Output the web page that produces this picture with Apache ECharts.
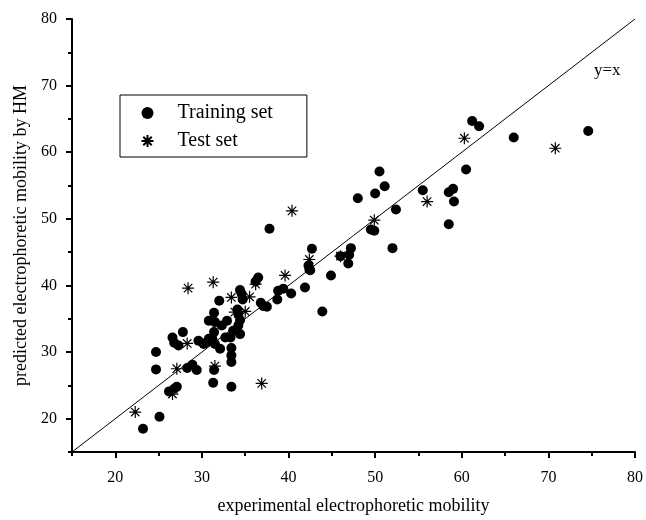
<!DOCTYPE html>
<html>
<head>
<meta charset="utf-8">
<script src="https://cdn.jsdelivr.net/npm/echarts@6/dist/echarts.min.js"></script>
<style>
  html, body { margin: 0; padding: 0; background: #fff; }
  #chart { width: 646px; height: 520px; }
</style>
</head>
<body>
<div id="chart"></div>
<script>
// training set points: [experimental, predicted]
var trainingSet = [
  [23.2,18.5],[25.1,20.3],[24.7,30.0],[24.7,27.4],[26.2,24.1],[26.8,24.5],[27.1,24.8],
  [28.3,27.6],[28.9,28.1],[29.4,27.3],[26.6,32.2],[26.8,31.4],[27.3,31.0],[27.8,33.0],
  [29.6,31.7],[30.2,31.2],[30.6,31.5],[30.8,32.0],[31.4,33.0],[31.2,32.0],[31.5,31.2],
  [32.1,30.5],[30.8,34.7],[31.5,34.5],[31.4,35.9],[32.3,34.0],[32.9,34.7],[32.0,37.7],
  [32.7,32.2],[33.3,32.2],[33.6,33.2],[34.2,34.0],[34.4,32.7],[34.1,36.4],[34.2,35.7],
  [34.4,34.8],[34.4,39.3],[34.6,38.7],[34.7,37.9],[33.4,30.6],[33.4,29.5],[33.4,28.5],
  [33.4,24.8],[31.3,25.4],[31.4,27.3],[36.5,41.2],[36.2,40.6],[36.8,37.4],[37.1,36.9],
  [37.5,36.8],[37.8,48.5],[38.8,39.2],[39.4,39.5],[38.7,37.9],[40.3,38.8],[41.9,39.7],
  [42.4,42.4],[42.3,43.0],[42.5,42.3],[42.7,45.5],[43.9,36.1],[44.9,41.5],[46.0,44.4],
  [46.9,43.3],[47.0,44.6],[47.2,45.6],[48.0,53.1],[49.5,48.4],[49.9,48.2],[50.0,53.8],
  [50.5,57.1],[51.1,54.9],[52.0,45.6],[52.4,51.4],[55.5,54.3],[58.5,54.0],[59.0,54.5],
  [59.1,52.6],[58.5,49.2],[60.5,57.4],[61.2,64.7],[62.0,63.9],[66.0,62.2],[74.6,63.2]
];
// test set points
var testSet = [
  [22.3,21.0],[26.6,23.7],[27.1,27.5],[28.3,31.3],[28.4,39.6],[31.3,40.5],[31.5,27.9],
  [33.4,38.2],[33.8,36.0],[35.0,36.1],[35.5,38.3],[36.2,40.2],[36.9,25.3],[39.6,41.5],
  [40.4,51.2],[42.4,43.9],[46.0,44.4],[49.9,49.8],[56.0,52.6],[60.3,62.1],[70.8,60.6]
];
// y = x reference line
var diagLine = [[15,15],[80,80]];
var majorTicks = [20,30,40,50,60,70,80];
var minorTicks = [15,25,35,45,55,65,75];

var font = 'Liberation Serif';
var starPath = 'path://M5,0L5,10M0,5L10,5M1.5,1.5L8.5,8.5M1.5,8.5L8.5,1.5';

var chart = echarts.init(document.getElementById('chart'));

function mainAxis(name, gap, labelMargin) {
  return {
    type: 'value', min: 15, max: 80,
    name: name, nameLocation: 'middle', nameGap: gap,
    nameTextStyle: { fontFamily: font, fontSize: 18, color: '#000' },
    axisLine: { show: true, lineStyle: { color: '#000', width: 2 } },
    axisTick: { show: true, customValues: majorTicks, length: 6, lineStyle: { color: '#000', width: 2 } },
    axisLabel: { customValues: majorTicks, fontFamily: font, fontSize: 16, color: '#000', margin: labelMargin },
    splitLine: { show: false }
  };
}
function minorAxis(pos) {
  return {
    type: 'value', min: 15, max: 80, position: pos,
    axisLine: { show: false },
    axisTick: { show: true, customValues: minorTicks, length: 4, lineStyle: { color: '#000', width: 2 } },
    axisLabel: { show: false },
    splitLine: { show: false }
  };
}

var xMain = mainAxis('experimental electrophoretic mobility', 45, 18);
xMain.position = 'bottom';
var yMain = mainAxis('predicted electrophoretic mobility by HM', 37, 15);
yMain.position = 'left';

var option = {
  backgroundColor: '#fff',
  animation: false,
  grid: { left: 72, top: 19, width: 567, height: 437 },
  legend: {
    left: 120, top: 95,
    orient: 'vertical',
    borderColor: '#000', borderWidth: 1,
    padding: [8, 34, 6, 19],
    itemGap: 8,
    itemWidth: 12, itemHeight: 12,
    textStyle: { fontFamily: font, fontSize: 20, color: '#000', padding: [0, 0, 0, 19] },
    data: ['Training set', 'Test set']
  },
  xAxis: [xMain, minorAxis('bottom')],
  yAxis: [yMain, minorAxis('left')],
  graphic: [{
    type: 'text', left: 594, top: 62,
    style: { text: 'y=x', font: '17px "Liberation Serif"', fill: '#000' }
  }],
  series: [
    {
      type: 'line', data: diagLine, symbol: 'none', silent: true,
      lineStyle: { color: '#000', width: 1 }, z: 1
    },
    {
      name: 'Training set', type: 'scatter', data: trainingSet,
      symbol: 'circle', symbolSize: 10,
      itemStyle: { color: '#000', opacity: 1 }
    },
    {
      name: 'Test set', type: 'scatter', data: testSet,
      symbol: starPath, symbolSize: 12,
      itemStyle: { color: 'none', borderColor: '#000', borderWidth: 1.2, opacity: 1 }
    }
  ]
};
chart.setOption(option);
</script>
</body>
</html>
